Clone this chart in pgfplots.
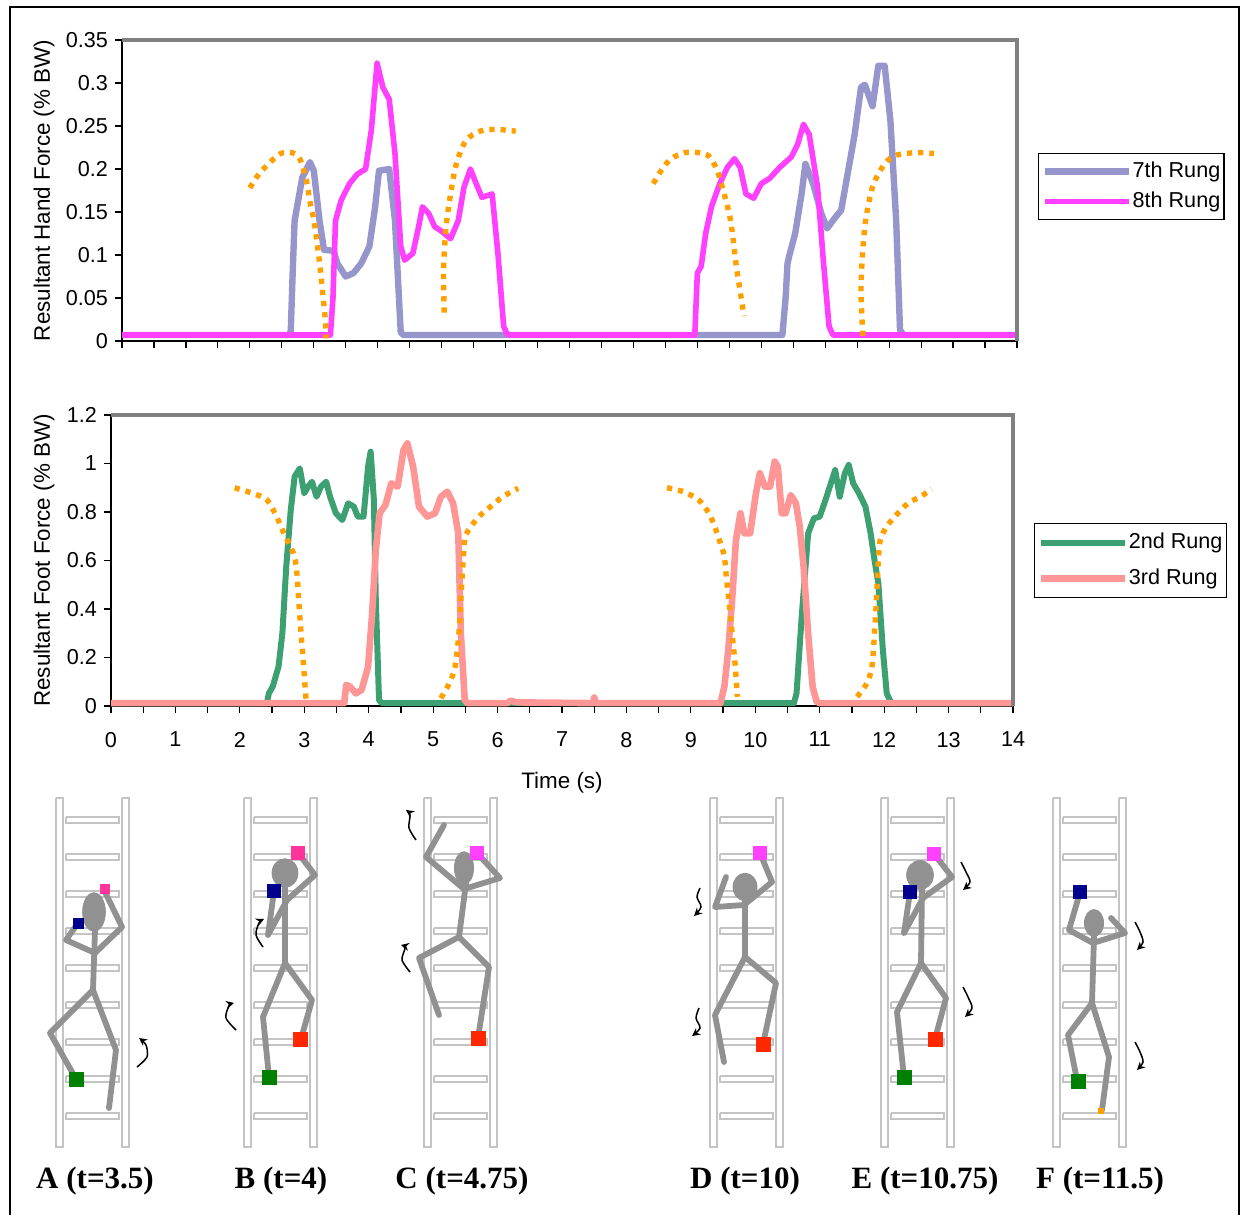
\documentclass[border=0pt]{standalone}
\usepackage{fontspec}
\setmainfont{Liberation Sans}
\newfontfamily\labfont{Liberation Serif}
\usepackage{pgfplots}
\usepackage{pgfplotstable}
\pgfplotsset{compat=1.18}
\usetikzlibrary{arrows.meta}

\definecolor{lav}{RGB}{150,150,204}
\definecolor{mag}{RGB}{255,64,255}
\definecolor{orng}{RGB}{255,160,0}
\definecolor{grn}{RGB}{60,160,115}
\definecolor{salm}{RGB}{255,150,150}
\definecolor{framegray}{RGB}{128,128,128}
\definecolor{ladgray}{RGB}{196,196,196}
\definecolor{figgray}{RGB}{145,145,145}
\definecolor{hpink}{RGB}{255,51,153}
\definecolor{hmag}{RGB}{255,64,255}
\definecolor{navyb}{RGB}{0,0,140}
\definecolor{redf}{RGB}{255,40,0}
\definecolor{greenf}{RGB}{0,128,0}

% ladder outline (x relative to left rail, y in pixels downward)
\pgfplotstableread{
x y
0 798
7 798
7 1147
0 1147
0 798
nan nan
66 798
73 798
73 1147
66 1147
66 798
nan nan
10 817
63 817
63 823
10 823
10 817
nan nan
10 854
63 854
63 860
10 860
10 854
nan nan
10 891
63 891
63 897
10 897
10 891
nan nan
10 928
63 928
63 934
10 934
10 928
nan nan
10 965
63 965
63 971
10 971
10 965
nan nan
10 1002
63 1002
63 1008
10 1008
10 1002
nan nan
10 1039
63 1039
63 1045
10 1045
10 1039
nan nan
10 1076
63 1076
63 1082
10 1082
10 1076
nan nan
10 1113
63 1113
63 1119
10 1119
10 1113
}\ladder

\pgfplotsset{
  chart/.style={
    scale only axis, xmin=0, xmax=14,
    axis x line*=bottom, axis y line*=left,
    axis line style={black, line width=0.9pt, -},
    tick align=outside, major tick length=3.5pt, minor tick length=3.5pt,
    tick style={black, line width=0.6pt},
    xtick={0,...,14}, minor x tick num=1,
    clip=false,
    /pgf/number format/assume math mode=true,
    tick label style={font=\fontsize{10.8}{13}\selectfont},
    label style={font=\fontsize{11.2}{13}\selectfont},
    legend image code/.code={\draw[##1, line cap=butt, dash pattern=] (0pt,0pt) -- (42pt,0pt);},
    legend cell align=left,
    after end axis/.code={\draw[framegray, line width=1.6pt] (rel axis cs:0,1) -- (rel axis cs:1,1) -- (rel axis cs:1,0);},
  },
  dotarc/.style={orng, line width=2.7pt, dash pattern=on 2.6pt off 3pt, smooth, forget plot},
}

\begin{document}
\begin{tikzpicture}
\useasboundingbox (0pt,0pt) rectangle (620.5pt,-607.5pt);

% ---------------- Hand force ----------------
\begin{axis}[chart,
  at={(61pt,-170.5pt)}, anchor=south west,
  width=447.5pt, height=150.5pt,
  ymin=0, ymax=0.35,
  ytick={0,0.05,0.1,0.15,0.2,0.25,0.3,0.35},
  yticklabels={0,0.05,0.1,0.15,0.2,0.25,0.3,0.35},
  xticklabels={},
  ylabel={Resultant Hand Force (\% BW)},
  ylabel style={at={(axis description cs:-0.0872,0.5)}, anchor=center},
  legend style={at={(1.0235,0.6246)}, anchor=north west, draw=black, line width=0.6pt,
    fill=white, inner xsep=1.5pt, inner ysep=4pt, row sep=5pt,
    font=\fontsize{10.8}{13}\selectfont, nodes={inner sep=0.3pt}},
]
\addplot[lav, line width=3.2pt, line join=round] coordinates {
(0,0.007) (2.62,0.007) (2.64,0.012) (2.67,0.08) (2.70,0.14) (2.82,0.19) (2.94,0.208)
(3.0,0.198) (3.09,0.14) (3.16,0.106) (3.31,0.105) (3.37,0.09) (3.50,0.075) (3.62,0.079)
(3.74,0.09) (3.87,0.11) (3.96,0.156) (4.02,0.198) (4.18,0.2) (4.27,0.14) (4.36,0.01)
(4.40,0.007) (10.33,0.007) (10.38,0.05) (10.41,0.09) (10.44,0.1) (10.53,0.125)
(10.63,0.171) (10.69,0.206) (10.81,0.183) (10.94,0.148) (11.03,0.131) (11.16,0.144)
(11.25,0.152) (11.34,0.19) (11.46,0.24) (11.56,0.295) (11.62,0.298) (11.74,0.273)
(11.83,0.32) (11.93,0.32) (12.02,0.256) (12.11,0.14) (12.17,0.013) (12.22,0.007) (14,0.007)};
\addlegendentry{7th Rung}
\addplot[mag, line width=2.8pt, line join=round] coordinates {
(0,0.007) (3.26,0.007) (3.30,0.05) (3.34,0.14) (3.43,0.164) (3.56,0.183) (3.68,0.194)
(3.81,0.2) (3.90,0.245) (3.99,0.323) (4.08,0.295) (4.18,0.281) (4.27,0.218) (4.36,0.11)
(4.42,0.094) (4.55,0.102) (4.64,0.133) (4.70,0.156) (4.80,0.148) (4.89,0.133) (5.01,0.127)
(5.14,0.119) (5.26,0.14) (5.35,0.179) (5.45,0.2) (5.54,0.183) (5.63,0.167) (5.79,0.171)
(5.88,0.102) (5.97,0.017) (6.03,0.007) (8.96,0.007) (9.0,0.079) (9.06,0.087) (9.13,0.125)
(9.22,0.156) (9.35,0.183) (9.47,0.202) (9.58,0.212) (9.67,0.202) (9.76,0.171) (9.88,0.166)
(10.0,0.183) (10.13,0.189) (10.29,0.202) (10.47,0.214) (10.57,0.229) (10.66,0.252)
(10.75,0.24) (10.88,0.179) (10.97,0.094) (11.06,0.017) (11.12,0.007) (14,0.007)};
\addlegendentry{8th Rung}
\addplot[dotarc] coordinates {(2.0,0.178) (2.14,0.194) (2.32,0.208) (2.48,0.218) (2.66,0.219)
 (2.78,0.212) (2.88,0.188) (2.94,0.162) (3.0,0.141) (3.05,0.115) (3.10,0.085) (3.14,0.055)
 (3.18,0.025) (3.19,0.003)};
\addplot[dotarc] coordinates {(5.04,0.033) (5.03,0.083) (5.07,0.133) (5.14,0.171) (5.23,0.206)
 (5.38,0.233) (5.6,0.244) (5.85,0.246) (6.16,0.244)};
\addplot[dotarc] coordinates {(8.31,0.183) (8.45,0.2) (8.59,0.212) (8.8,0.219) (9.02,0.219)
 (9.18,0.215) (9.3,0.2) (9.39,0.179) (9.52,0.14) (9.61,0.087) (9.73,0.029)};
\addplot[dotarc] coordinates {(11.59,0.006) (11.56,0.064) (11.62,0.133) (11.74,0.179)
 (11.93,0.206) (12.11,0.216) (12.42,0.219) (12.7,0.218)};
\end{axis}

% ---------------- Foot force ----------------
\begin{axis}[chart,
  at={(55.5pt,-353pt)}, anchor=south west,
  width=451pt, height=145.5pt,
  ymin=0, ymax=1.2,
  ytick={0,0.2,0.4,0.6,0.8,1,1.2},
  yticklabels={0,0.2,0.4,0.6,0.8,1,1.2},
  xticklabel style={yshift=-6pt},
  ylabel={Resultant Foot Force (\% BW)},
  ylabel style={at={(axis description cs:-0.0743,0.5)}, anchor=center},
  xlabel={Time (s)},
  xlabel style={at={(axis description cs:0.5,-0.262)}, anchor=center},
  legend style={at={(1.0233,0.629)}, anchor=north west, draw=black, line width=0.6pt,
    fill=white, inner xsep=1.5pt, inner ysep=4.5pt, row sep=8pt,
    font=\fontsize{10.8}{13}\selectfont, nodes={inner sep=0.3pt}},
]
\addplot[grn, line width=3pt, line join=round] coordinates {
(0,0.012) (2.42,0.012) (2.45,0.052) (2.51,0.08) (2.60,0.162) (2.66,0.3) (2.72,0.575)
(2.79,0.808) (2.85,0.946) (2.93,0.98) (3.0,0.877) (3.06,0.905) (3.12,0.925) (3.19,0.863)
(3.26,0.905) (3.34,0.925) (3.40,0.863) (3.49,0.795) (3.59,0.767) (3.68,0.836) (3.77,0.822)
(3.83,0.781) (3.92,0.781) (3.99,0.987) (4.03,1.049) (4.08,0.85) (4.11,0.437) (4.16,0.025)
(4.20,0.012) (10.6,0.012) (10.64,0.052) (10.72,0.368) (10.82,0.712) (10.91,0.774)
(11.0,0.781) (11.09,0.85) (11.19,0.932) (11.24,0.973) (11.31,0.863) (11.39,0.96)
(11.45,0.994) (11.52,0.918) (11.61,0.877) (11.71,0.822) (11.79,0.712) (11.85,0.602)
(11.91,0.506) (11.98,0.231) (12.04,0.052) (12.1,0.018) (12.14,0.012) (14,0.012)};
\addlegendentry{2nd Rung}
\addplot[salm, line width=3.3pt, line join=round] coordinates {
(0,0.012) (3.62,0.012) (3.65,0.087) (3.71,0.08) (3.80,0.052) (3.89,0.066) (3.99,0.162)
(4.05,0.368) (4.11,0.643) (4.17,0.795) (4.26,0.829) (4.35,0.918) (4.45,0.905) (4.54,1.056)
(4.60,1.083) (4.69,0.987) (4.78,0.822) (4.91,0.781) (5.03,0.795) (5.12,0.863) (5.22,0.884)
(5.31,0.836) (5.39,0.712) (5.43,0.3) (5.49,0.025) (5.53,0.012) (6.15,0.012) (6.2,0.022)
(6.3,0.015) (7.48,0.012) (7.5,0.035) (7.53,0.012) (9.46,0.012) (9.52,0.08) (9.58,0.231)
(9.64,0.437) (9.70,0.685) (9.77,0.795) (9.83,0.712) (9.92,0.712) (10.01,0.877) (10.07,0.96)
(10.15,0.905) (10.23,0.905) (10.30,1.008) (10.35,0.987) (10.41,0.795) (10.47,0.795)
(10.55,0.87) (10.63,0.836) (10.69,0.74) (10.75,0.575) (10.82,0.3) (10.89,0.08)
(10.95,0.018) (11.0,0.012) (14,0.012)};
\addlegendentry{3rd Rung}
\addplot[dotarc] coordinates {(1.92,0.9) (2.2,0.877) (2.42,0.85) (2.57,0.781) (2.66,0.726)
 (2.76,0.67) (2.85,0.616) (2.89,0.533) (2.92,0.41) (2.95,0.3) (2.99,0.162) (3.02,0.052) (3.03,0.025)};
\addplot[dotarc] coordinates {(5.12,0.032) (5.25,0.093) (5.34,0.162) (5.40,0.3) (5.43,0.437)
 (5.46,0.575) (5.49,0.685) (5.55,0.726) (5.71,0.781) (5.89,0.822) (6.08,0.863) (6.32,0.898)};
\addplot[dotarc] coordinates {(8.63,0.9) (8.88,0.884) (9.12,0.85) (9.28,0.795) (9.37,0.74)
 (9.46,0.67) (9.52,0.616) (9.55,0.533) (9.60,0.41) (9.64,0.3) (9.69,0.162) (9.72,0.038)};
\addplot[dotarc] coordinates {(11.58,0.038) (11.73,0.093) (11.81,0.162) (11.85,0.3)
 (11.88,0.437) (11.91,0.602) (11.94,0.685) (12.04,0.74) (12.19,0.788) (12.37,0.836)
 (12.56,0.863) (12.74,0.894)};
\end{axis}

% ---------------- Illustrations (pixel coordinates) ----------------
\begin{axis}[at={(0pt,-607.5pt)}, anchor=south west, scale only axis,
  width=620.5pt, height=607.5pt, xmin=0, xmax=1241, ymin=-1215, ymax=0,
  hide axis, clip=false, unbounded coords=jump]
% outer frame
\addplot[black, line width=0.8pt] coordinates {(10,-1215) (10,-7) (1239,-7) (1239,-1215)};
% ladders
\addplot[ladgray, line width=1.1pt] table[x expr=\thisrow{x}+56, y expr=-\thisrow{y}] {\ladder};
\addplot[ladgray, line width=1.1pt] table[x expr=\thisrow{x}+244, y expr=-\thisrow{y}] {\ladder};
\addplot[ladgray, line width=1.1pt] table[x expr=\thisrow{x}+424, y expr=-\thisrow{y}] {\ladder};
\addplot[ladgray, line width=1.1pt] table[x expr=\thisrow{x}+710, y expr=-\thisrow{y}] {\ladder};
\addplot[ladgray, line width=1.1pt] table[x expr=\thisrow{x}+881, y expr=-\thisrow{y}] {\ladder};
\addplot[ladgray, line width=1.1pt] table[x expr=\thisrow{x}+1053, y expr=-\thisrow{y}] {\ladder};

\pgfplotsset{limb/.style={figgray, line width=2.9pt, line join=round, line cap=round}}
% A
\addplot[limb] coordinates {(95,-930) (93,-990)};
\addplot[limb] coordinates {(78,-923) (66,-940) (95,-953) (122,-927) (104,-890)};
\addplot[limb] coordinates {(76,-1079) (50,-1033) (93,-990) (116,-1050) (109,-1108)};
% B
\addplot[limb] coordinates {(285,-887) (285,-963)};
\addplot[limb] coordinates {(298,-853) (315,-875) (287,-900) (268,-935) (274,-891)};
\addplot[limb] coordinates {(269,-1077) (263,-1017) (285,-963) (312,-1000) (301,-1039)};
% C
\addplot[limb] coordinates {(466,-883) (459,-937)};
\addplot[limb] coordinates {(444,-825) (426,-857) (464,-889) (500,-878) (477,-853)};
\addplot[limb] coordinates {(439,-1015) (419,-958) (459,-937) (489,-967) (478,-1038)};
% D
\addplot[limb] coordinates {(745,-900) (745,-957)};
\addplot[limb] coordinates {(726,-877) (715,-907) (744,-905) (772,-882) (760,-853)};
\addplot[limb] coordinates {(724,-1062) (715,-1015) (745,-957) (776,-983) (763,-1044)};
% E
\addplot[limb] coordinates {(922,-887) (921,-963)};
\addplot[limb] coordinates {(934,-854) (952,-877) (923,-898) (904,-933) (910,-892)};
\addplot[limb] coordinates {(904,-1077) (897,-1012) (921,-963) (946,-998) (935,-1039)};
% F
\addplot[limb] coordinates {(1094,-936) (1092,-1003)};
\addplot[limb] coordinates {(1080,-892) (1069,-930) (1093,-943) (1125,-933) (1111,-918)};
\addplot[limb] coordinates {(1077,-1080) (1068,-1035) (1092,-1003) (1109,-1057) (1102,-1110)};
% heads
\addplot[only marks, mark=*, mark size=5.7pt, mark options={fill=figgray, draw=figgray, yscale=1.7}] coordinates {(94,-912)};
\addplot[only marks, mark=*, mark size=6.5pt, mark options={fill=figgray, draw=figgray, yscale=1.1}] coordinates {(285,-873)};
\addplot[only marks, mark=*, mark size=4.8pt, mark options={fill=figgray, draw=figgray, yscale=1.7}] coordinates {(464,-868)};
\addplot[only marks, mark=*, mark size=6pt, mark options={fill=figgray, draw=figgray, yscale=1.15}] coordinates {(745,-887)};
\addplot[only marks, mark=*, mark size=6.7pt, mark options={fill=figgray, draw=figgray, yscale=1.08}] coordinates {(920,-875)};
\addplot[only marks, mark=*, mark size=4.8pt, mark options={fill=figgray, draw=figgray, yscale=1.4}] coordinates {(1094,-923)};
% contact markers
\addplot[only marks, mark=square*, mark size=2.3pt, hpink] coordinates {(105,-889)};
\addplot[only marks, mark=square*, mark size=2.5pt, navyb] coordinates {(78,-923)};
\addplot[only marks, mark=square*, mark size=3.3pt, hpink] coordinates {(298,-853)};
\addplot[only marks, mark=square*, mark size=3.1pt, hmag] coordinates {(477,-853) (760,-853) (934,-854)};
\addplot[only marks, mark=square*, mark size=3.3pt, navyb] coordinates {(274,-891) (910,-892) (1080,-892)};
\addplot[only marks, mark=square*, mark size=3.5pt, redf] coordinates {(300,-1039) (478,-1038) (763,-1044) (935,-1039)};
\addplot[only marks, mark=square*, mark size=3.5pt, greenf] coordinates {(76,-1079) (269,-1077) (904,-1077) (1078,-1081)};
\addplot[only marks, mark=square*, mark size=1.2pt, orng] coordinates {(1101,-1111)};
% motion arrows
\pgfplotsset{marr/.style={black, line width=0.75pt, smooth, -{Stealth[length=4pt,width=4pt]}}}
\addplot[marr] coordinates {(137,-1067) (147,-1057) (146,-1045) (139,-1038)};
\addplot[marr] coordinates {(263,-947) (256,-935) (259,-923) (264,-919)};
\addplot[marr] coordinates {(236,-1030) (226,-1018) (229,-1006) (234,-1003)};
\addplot[marr] coordinates {(416,-840) (409,-828) (410,-815) (406,-810)};
\addplot[marr] coordinates {(410,-972) (402,-960) (405,-948) (401,-945)};
\addplot[marr] coordinates {(700,-888) (697,-897) (701,-907) (694,-916)};
\addplot[marr] coordinates {(699,-1008) (696,-1018) (700,-1028) (692,-1036)};
\addplot[marr] coordinates {(961,-862) (966,-872) (970,-882) (963,-890)};
\addplot[marr] coordinates {(963,-987) (968,-997) (972,-1008) (965,-1017)};
\addplot[marr] coordinates {(1135,-922) (1140,-932) (1143,-942) (1137,-950)};
\addplot[marr] coordinates {(1135,-1042) (1140,-1052) (1143,-1062) (1137,-1070)};
% captions
\begin{scope}[every node/.style={anchor=base, font={\labfont\fontsize{15.5}{18}\selectfont\bfseries}}]
\node at (axis cs:95,-1188) {A (t=3.5)};
\node at (axis cs:281,-1188) {B (t=4)};
\node at (axis cs:462,-1188) {C (t=4.75)};
\node at (axis cs:745,-1188) {D (t=10)};
\node at (axis cs:925,-1188) {E (t=10.75)};
\node at (axis cs:1100,-1188) {F (t=11.5)};
\end{scope}
\end{axis}
\end{tikzpicture}
\end{document}
